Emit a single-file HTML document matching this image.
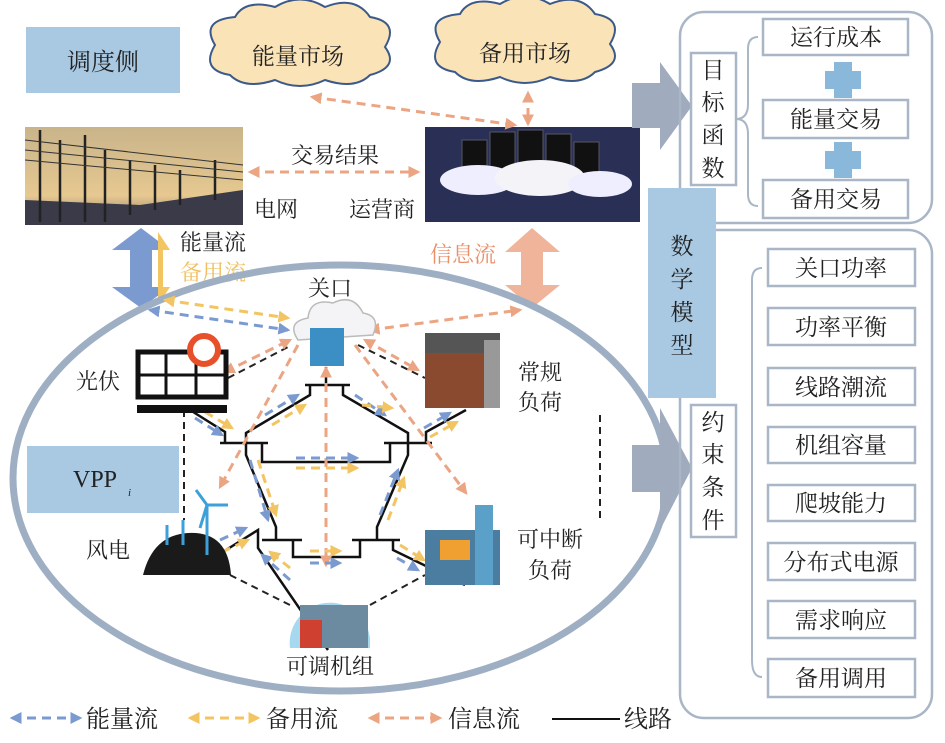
<!DOCTYPE html>
<html><head><meta charset="utf-8"><style>
html,body{margin:0;padding:0;background:#fff;}
svg{display:block;}
text{font-family:"Liberation Serif","Noto Serif CJK SC","Noto Sans CJK SC",serif;fill:#222;}
</style></head><body>
<svg width="945" height="743" viewBox="0 0 945 743" xmlns="http://www.w3.org/2000/svg">
<defs>
<marker id="ab" viewBox="0 0 10 10" refX="8" refY="5" markerWidth="4" markerHeight="4" orient="auto-start-reverse"><path d="M0,0L10,5L0,10z" fill="#7b9ad0"/></marker>
<marker id="ay" viewBox="0 0 10 10" refX="8" refY="5" markerWidth="4" markerHeight="4" orient="auto-start-reverse"><path d="M0,0L10,5L0,10z" fill="#f3c462"/></marker>
<marker id="ao" viewBox="0 0 10 10" refX="8" refY="5" markerWidth="4" markerHeight="4" orient="auto-start-reverse"><path d="M0,0L10,5L0,10z" fill="#eba583"/></marker>
<linearGradient id="sky" x1="0" y1="0" x2="0" y2="1"><stop offset="0" stop-color="#c9b48a"/><stop offset="0.7" stop-color="#e6c890"/><stop offset="1" stop-color="#8a7a6a"/></linearGradient>
</defs>

<rect x="26" y="27" width="154" height="66" fill="#a9c9e3"/>
<text x="103" y="70" font-size="24" text-anchor="middle">调度侧</text>

<g fill="#fbe3b8" stroke="#3b5a8a" stroke-width="2">
<path d="M215,45 q-15,-25 20,-28 q10,-18 40,-10 q25,-15 50,0 q30,-12 45,10 q30,5 15,30 q15,20 -15,28 q-15,15 -45,5 q-25,12 -50,0 q-30,10 -45,-5 q-30,-5 -15,-30 z"/>
<path d="M440,42 q-15,-25 20,-28 q10,-18 40,-10 q25,-15 50,0 q30,-12 45,10 q30,5 15,30 q15,20 -15,28 q-15,15 -45,5 q-25,12 -50,0 q-30,10 -45,-5 q-30,-5 -15,-30 z"/>
</g>
<text x="298" y="64" font-size="23" text-anchor="middle">能量市场</text>
<text x="525" y="61" font-size="23" text-anchor="middle">备用市场</text>

<!-- grid image -->
<rect x="25" y="127" width="218" height="98" fill="url(#sky)"/>
<path d="M25,225 V200 L140,205 L243,190 V225 Z" fill="#3a3a48"/>
<g stroke="#222" stroke-width="2.5">
<line x1="40" y1="130" x2="40" y2="222"/><line x1="60" y1="140" x2="60" y2="222"/><line x1="85" y1="135" x2="85" y2="222"/><line x1="105" y1="150" x2="105" y2="222"/><line x1="130" y1="160" x2="130" y2="215"/><line x1="155" y1="165" x2="155" y2="210"/><line x1="180" y1="170" x2="180" y2="205"/><line x1="215" y1="160" x2="215" y2="200"/>
</g>
<g stroke="#333" stroke-width="1"><line x1="25" y1="140" x2="243" y2="165"/><line x1="25" y1="150" x2="243" y2="172"/><line x1="25" y1="160" x2="243" y2="180"/></g>
<!-- operator image -->
<rect x="425" y="127" width="215" height="95" fill="#2a2f55"/>
<g fill="#111" stroke="#556" stroke-width="1">
<rect x="462" y="140" width="25" height="35"/><rect x="490" y="132" width="25" height="40"/><rect x="518" y="130" width="25" height="42"/><rect x="546" y="134" width="25" height="40"/><rect x="574" y="142" width="25" height="35"/>
</g>
<ellipse cx="478" cy="180" rx="38" ry="15" fill="#eef"/><ellipse cx="540" cy="178" rx="45" ry="18" fill="#f4f4f8"/><ellipse cx="600" cy="184" rx="32" ry="13" fill="#eef"/>
<text x="335" y="163" font-size="22" text-anchor="middle">交易结果</text>
<text x="276" y="217" font-size="22" text-anchor="middle">电网</text>
<text x="382" y="217" font-size="22" text-anchor="middle">运营商</text>

<g stroke-width="3" stroke-dasharray="9,6" fill="none">
<line x1="250" y1="172" x2="418" y2="172" stroke="#eba583" marker-start="url(#ao)" marker-end="url(#ao)"/>
<line x1="312" y1="97" x2="515" y2="125" stroke="#eba583" marker-start="url(#ao)" marker-end="url(#ao)"/>
<line x1="528" y1="93" x2="528" y2="124" stroke="#eba583" marker-start="url(#ao)" marker-end="url(#ao)"/>
</g>

<path d="M141,228 L170,250 L152,250 L152,287 L170,287 L141,308 L112,287 L130,287 L130,250 L112,250 Z" fill="#7b9ad0"/>
<path d="M158,232 L170,250 L163,250 L163,287 L170,287 L158,305 Z" fill="#f3c462"/>
<path d="M532,228 L560,252 L543,252 L543,285 L560,285 L532,308 L505,285 L521,285 L521,252 L505,252 Z" fill="#f0b49b"/>
<text x="213" y="250" font-size="22" text-anchor="middle">能量流</text>
<text x="213" y="280" font-size="22" text-anchor="middle" style="fill:#f0c060">备用流</text>
<text x="463" y="262" font-size="22" text-anchor="middle" style="fill:#e8906a">信息流</text>

<ellipse cx="340" cy="478" rx="327" ry="213" fill="none" stroke="#9eafc4" stroke-width="7"/>

<rect x="27" y="446" width="152" height="67" fill="#a9c9e3"/>
<text x="95" y="487" font-size="24" text-anchor="middle">VPP</text>
<text x="128" y="496" font-size="11" font-style="italic">i</text>

<g stroke="#222" stroke-width="2" stroke-dasharray="7,5" fill="none">
<line x1="184" y1="410" x2="184" y2="520"/><line x1="600" y1="415" x2="600" y2="520"/>
<line x1="228" y1="378" x2="292" y2="345"/><line x1="358" y1="345" x2="425" y2="378"/>
<line x1="230" y1="575" x2="290" y2="605"/><line x1="370" y1="605" x2="425" y2="575"/>
</g>

<g stroke="#111" stroke-width="2.5" fill="none">
<line x1="326" y1="367" x2="326" y2="385"/>
<line x1="305" y1="385" x2="350" y2="385"/>
<path d="M310,385 V395 L246,433 V445"/><path d="M343,385 V395 L408,433 V445"/>
<path d="M190,410 L225,432 V443"/>
<line x1="220" y1="443" x2="268" y2="443"/>
<line x1="384" y1="443" x2="432" y2="443"/>
<path d="M262,443 V462 H390 V443"/>
<path d="M426,443 V432 L466,410"/>
<path d="M246,445 V455 L276,527 V540"/><path d="M408,445 V455 L377,527 V540"/>
<line x1="262" y1="540" x2="302" y2="540"/><line x1="352" y1="540" x2="400" y2="540"/>
<path d="M293,540 V557 H360 V540"/>
<path d="M218,555 L258,530 V548 L328,650"/>
<path d="M393,540 V550 L465,585"/>
</g>

<g stroke-width="3" stroke-dasharray="9,6" fill="none">
<line x1="150" y1="310" x2="288" y2="330" stroke="#7b9ad0" marker-start="url(#ab)" marker-end="url(#ab)"/>
<line x1="165" y1="300" x2="288" y2="318" stroke="#f3c462" marker-start="url(#ay)" marker-end="url(#ay)"/>
<line x1="370" y1="330" x2="520" y2="310" stroke="#eba583" marker-start="url(#ao)" marker-end="url(#ao)"/>
<line x1="225" y1="372" x2="290" y2="340" stroke="#eba583" marker-start="url(#ao)" marker-end="url(#ao)"/>
<line x1="365" y1="340" x2="418" y2="370" stroke="#eba583" marker-start="url(#ao)" marker-end="url(#ao)"/>
<line x1="326" y1="368" x2="326" y2="565" stroke="#eba583" marker-start="url(#ao)" marker-end="url(#ao)"/>
<line x1="298" y1="345" x2="220" y2="487" stroke="#eba583" marker-end="url(#ao)"/>
<line x1="355" y1="345" x2="466" y2="493" stroke="#eba583" marker-end="url(#ao)"/>
<line x1="195" y1="418" x2="222" y2="435" stroke="#7b9ad0" marker-end="url(#ab)"/>
<line x1="205" y1="412" x2="232" y2="428" stroke="#f3c462" marker-end="url(#ay)"/>
<line x1="265" y1="415" x2="298" y2="395" stroke="#7b9ad0" marker-end="url(#ab)"/>
<line x1="272" y1="425" x2="305" y2="405" stroke="#f3c462" marker-end="url(#ay)"/>
<line x1="355" y1="395" x2="385" y2="415" stroke="#7b9ad0" marker-end="url(#ab)"/>
<line x1="362" y1="405" x2="392" y2="408" stroke="#f3c462" marker-end="url(#ay)"/>
<line x1="424" y1="428" x2="450" y2="413" stroke="#7b9ad0" marker-end="url(#ab)"/>
<line x1="430" y1="437" x2="457" y2="422" stroke="#f3c462" marker-end="url(#ay)"/>
<line x1="296" y1="458" x2="357" y2="458" stroke="#7b9ad0" marker-end="url(#ab)"/>
<line x1="296" y1="468" x2="357" y2="468" stroke="#f3c462" marker-end="url(#ay)"/>
<line x1="250" y1="460" x2="268" y2="520" stroke="#7b9ad0" marker-end="url(#ab)"/>
<line x1="258" y1="460" x2="276" y2="515" stroke="#f3c462" marker-end="url(#ay)"/>
<line x1="380" y1="515" x2="398" y2="470" stroke="#7b9ad0" marker-end="url(#ab)"/>
<line x1="388" y1="520" x2="404" y2="478" stroke="#f3c462" marker-end="url(#ay)"/>
<line x1="220" y1="540" x2="246" y2="528" stroke="#7b9ad0" marker-end="url(#ab)"/>
<line x1="222" y1="552" x2="248" y2="540" stroke="#f3c462" marker-end="url(#ay)"/>
<line x1="290" y1="580" x2="262" y2="555" stroke="#7b9ad0" marker-end="url(#ab)"/>
<line x1="290" y1="568" x2="270" y2="552" stroke="#f3c462" marker-end="url(#ay)"/>
<line x1="310" y1="551" x2="340" y2="551" stroke="#f3c462" marker-end="url(#ay)"/>
<line x1="310" y1="563" x2="340" y2="563" stroke="#7b9ad0" marker-end="url(#ab)"/>
<line x1="397" y1="558" x2="418" y2="570" stroke="#7b9ad0" marker-end="url(#ab)"/>
<line x1="400" y1="545" x2="424" y2="560" stroke="#f3c462" marker-end="url(#ay)"/>
</g>

<path d="M298,340 q-12,-18 10,-22 q2,-20 25,-15 q20,-10 30,10 q18,3 10,22 z" fill="#f4f4f6" stroke="#bbb" stroke-width="1.5"/>
<rect x="310" y="328" width="34" height="38" fill="#3b8fc4"/>
<text x="330" y="296" font-size="22" text-anchor="middle">关口</text>

<rect x="138" y="352" width="88" height="45" fill="#fff" stroke="#111" stroke-width="5"/>
<line x1="166" y1="352" x2="166" y2="397" stroke="#111" stroke-width="3"/><line x1="196" y1="352" x2="196" y2="397" stroke="#111" stroke-width="3"/><line x1="138" y1="375" x2="226" y2="375" stroke="#111" stroke-width="3"/>
<rect x="137" y="405" width="90" height="8" fill="#111"/>
<circle cx="204" cy="350" r="14" fill="#fff" stroke="#e8502a" stroke-width="6"/>
<text x="98" y="389" font-size="22" text-anchor="middle">光伏</text>

<rect x="425" y="333" width="75" height="75" fill="#8a4a30"/>
<rect x="425" y="333" width="75" height="20" fill="#555"/>
<rect x="484" y="340" width="16" height="68" fill="#999"/>
<text x="540" y="380" font-size="22" text-anchor="middle">常规</text>
<text x="540" y="410" font-size="22" text-anchor="middle">负荷</text>

<path d="M143,575 q10,-40 45,-42 q40,-2 43,42 z" fill="#1a1a1a"/>
<g stroke="#3ea0d8" stroke-width="3"><line x1="207" y1="555" x2="207" y2="505"/><line x1="183" y1="545" x2="183" y2="520"/><line x1="167" y1="545" x2="167" y2="525"/><line x1="207" y1="505" x2="196" y2="490"/><line x1="207" y1="505" x2="228" y2="505"/><line x1="207" y1="505" x2="200" y2="528"/></g>
<text x="108" y="558" font-size="22" text-anchor="middle">风电</text>

<rect x="425" y="530" width="75" height="55" fill="#4a7da0"/>
<rect x="475" y="505" width="18" height="80" fill="#5aa0c8"/>
<rect x="440" y="540" width="30" height="20" fill="#f0a030"/>
<text x="550" y="547" font-size="22" text-anchor="middle">可中断</text>
<text x="550" y="578" font-size="22" text-anchor="middle">负荷</text>

<path d="M290,648 a40,40 0 1 1 80,-10 v10 z" fill="#a6d9ef"/>
<rect x="300" y="605" width="68" height="43" fill="#6c8aa0"/>
<rect x="300" y="620" width="22" height="28" fill="#d04030"/>
<text x="330" y="674" font-size="22" text-anchor="middle">可调机组</text>

<path d="M632,83 H660 V62 L692,106 L660,150 V128 H632 Z" fill="#a0acbd"/>
<path d="M632,445 H660 V408 L692,468 L660,530 V492 H632 Z" fill="#a0acbd"/>

<rect x="680" y="12" width="252" height="211" rx="24" fill="none" stroke="#a8b6c6" stroke-width="2.5"/>
<rect x="680" y="230" width="252" height="488" rx="24" fill="none" stroke="#a8b6c6" stroke-width="2.5"/>
<rect x="648" y="188" width="68" height="210" fill="#a9c9e3"/>
<g font-size="23" text-anchor="middle"><text x="682" y="254">数</text><text x="682" y="287">学</text><text x="682" y="320">模</text><text x="682" y="353">型</text></g>
<g fill="#fff" stroke="#a8b6c6" stroke-width="2.5">
<rect x="691" y="53" width="45" height="132"/><rect x="691" y="405" width="45" height="132"/>
<rect x="763" y="19" width="145" height="36"/><rect x="763" y="100" width="145" height="38"/><rect x="763" y="180" width="145" height="38"/>
<rect x="768" y="249" width="147" height="37"/><rect x="768" y="308" width="147" height="37"/><rect x="768" y="368" width="147" height="37"/><rect x="768" y="427" width="147" height="36"/><rect x="768" y="485" width="147" height="36"/><rect x="768" y="543" width="147" height="37"/><rect x="768" y="601" width="147" height="37"/><rect x="768" y="659" width="147" height="38"/>
</g>
<path d="M758,37 q-10,0 -10,12 v55 q0,15 -12,15 q12,0 12,15 v60 q0,12 10,12" fill="none" stroke="#a8b6c6" stroke-width="2"/>
<path d="M762,268 q-10,0 -10,12 v380 q0,17 10,17" fill="none" stroke="#a8b6c6" stroke-width="2"/>
<g fill="#8ab8da"><rect x="834" y="62" width="18" height="36"/><rect x="825" y="71" width="36" height="18"/><rect x="834" y="142" width="18" height="36"/><rect x="825" y="151" width="36" height="18"/></g>
<g font-size="23" text-anchor="middle">
<text x="713" y="78">目</text><text x="713" y="110">标</text><text x="713" y="143">函</text><text x="713" y="176">数</text>
<text x="713" y="430">约</text><text x="713" y="462">束</text><text x="713" y="495">条</text><text x="713" y="528">件</text>
<text x="836" y="45">运行成本</text><text x="836" y="127">能量交易</text><text x="836" y="207">备用交易</text>
<text x="841" y="276">关口功率</text><text x="841" y="335">功率平衡</text><text x="841" y="395">线路潮流</text><text x="841" y="453">机组容量</text><text x="841" y="511">爬坡能力</text><text x="841" y="570">分布式电源</text><text x="841" y="628">需求响应</text><text x="841" y="686">备用调用</text>
</g>

<g stroke-width="3" stroke-dasharray="9,6" fill="none">
<line x1="12" y1="718" x2="80" y2="718" stroke="#7b9ad0" marker-start="url(#ab)" marker-end="url(#ab)"/>
<line x1="190" y1="718" x2="258" y2="718" stroke="#f3c462" marker-start="url(#ay)" marker-end="url(#ay)"/>
<line x1="370" y1="718" x2="440" y2="718" stroke="#eba583" marker-start="url(#ao)" marker-end="url(#ao)"/>
</g>
<line x1="552" y1="719" x2="620" y2="719" stroke="#111" stroke-width="2"/>
<g font-size="24"><text x="86" y="727">能量流</text><text x="266" y="727">备用流</text><text x="448" y="727">信息流</text><text x="624" y="727">线路</text></g>
</svg>
</body></html>
